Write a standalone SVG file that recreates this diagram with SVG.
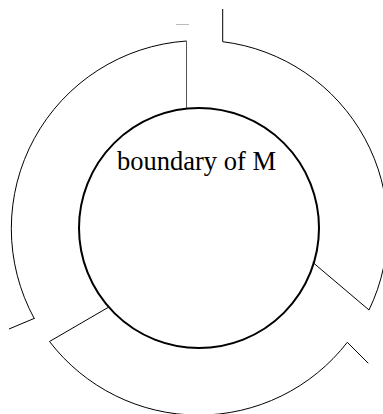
<svg xmlns="http://www.w3.org/2000/svg" width="383" height="414" viewBox="0 0 383 414">
<style>
.arc{fill:none;stroke:#000;stroke-width:1}
.ln{stroke:#000;stroke-width:1}
.gray{stroke:#555;stroke-width:1}
.lbl{font-family:"Liberation Serif","Times New Roman",serif;font-size:26.5px;fill:#000}
</style>
<rect width="383" height="414" fill="#fff"/>
<g id="boundary">
<circle cx="199" cy="228" r="120" fill="none" stroke="#000" stroke-width="2"/>
<text class="lbl" x="196.5" y="170" text-anchor="middle">boundary of M</text>
</g>
<g id="connectors">
<path class="arc" d="M186.5,41 A188,188 0 0 0 34.5,319"/>
<path class="arc" d="M49.5,341.5 A188,188 0 0 0 347.3,342.3"/>
<path class="arc" d="M222.7,41.7 A188,188 0 0 1 369,310"/>
<line class="gray" x1="186.5" y1="41" x2="186.5" y2="108"/>
<line x1="176" y1="24.5" x2="189" y2="24.5" stroke="#bbb" stroke-width="1"/>
<line class="ln" x1="34" y1="318.5" x2="9" y2="329"/>
<line class="ln" x1="49.5" y1="341.5" x2="108" y2="307.5"/>
<line class="ln" x1="347.3" y1="342.3" x2="368.3" y2="363.3"/>
<line class="ln" x1="222.7" y1="41.7" x2="222.7" y2="9"/>
<line class="ln" x1="369" y1="310" x2="312.7" y2="262.3"/>
</g>
</svg>
